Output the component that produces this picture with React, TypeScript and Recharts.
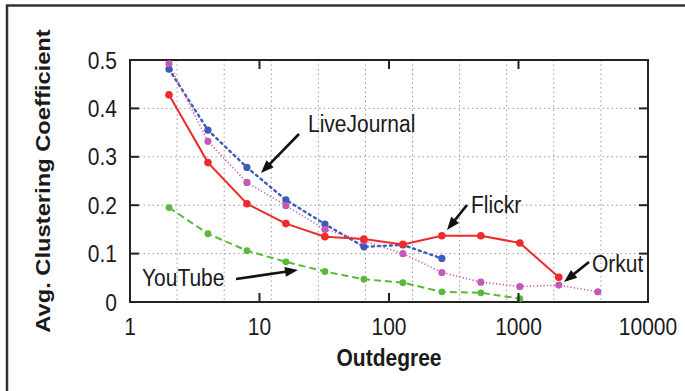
import React from 'react';
import { LineChart, Line, XAxis, YAxis, CartesianGrid, ReferenceArea } from 'recharts';

const outdegree = [2, 4, 8, 16, 32, 64, 128, 256, 512, 1024, 2048, 4096];
const flickr = [0.428, 0.288, 0.203, 0.162, 0.135, 0.13, 0.119, 0.137, 0.137, 0.122, 0.051, null];
const liveJournal = [0.481, 0.355, 0.278, 0.211, 0.161, 0.114, 0.118, 0.09, null, null, null, null];
const orkut = [0.492, 0.332, 0.247, 0.199, 0.15, 0.126, 0.1, 0.061, 0.041, 0.032, 0.035, 0.021];
const youTube = [0.195, 0.141, 0.106, 0.083, 0.063, 0.047, 0.04, 0.021, 0.019, 0.007, null, null];

const xMajorTicks = [1, 10, 100, 1000, 10000];
const xMinorTicks = [1, 10, 100, 1000].flatMap((d) => [2, 3, 4, 5, 6, 7, 8, 9].map((m) => m * d));
const yTicks = [0, 0.1, 0.2, 0.3, 0.4, 0.5];

const data = outdegree.map((x, i) => ({
  x,
  flickr: flickr[i],
  liveJournal: liveJournal[i],
  orkut: orkut[i],
  youTube: youTube[i],
}));

const FONT = '"Liberation Sans", Arial, Helvetica, sans-serif';
const W = 685;
const H = 391;
const PLOT_LEFT = 130;
const PLOT_RIGHT = 648;
const PLOT_TOP = 60;
const PLOT_BOTTOM = 302;
const AXIS = '#222';
const TEXT = '#1a1a1a';
const STRETCH = 1.13;

const SText = ({ x, y, anchor = 'start', size = 21, bold = false, children }: any) => (
  <text
    transform={`translate(${x} ${y}) scale(1 ${STRETCH})`}
    x={0}
    y={0}
    textAnchor={anchor}
    fontSize={size}
    fontWeight={bold ? 'bold' : 'normal'}
    fontFamily={FONT}
    fill={TEXT}
  >
    {children}
  </text>
);

const XMajorTick = (props: any) => {
  const { x, payload } = props;
  return (
    <g>
      <line x1={x} x2={x} y1={PLOT_BOTTOM} y2={PLOT_BOTTOM - 9} stroke={AXIS} strokeWidth={2} />
      <line x1={x} x2={x} y1={PLOT_TOP} y2={PLOT_TOP + 9} stroke={AXIS} strokeWidth={2} />
      <SText x={x} y={335} anchor="middle">
        {String(payload.value)}
      </SText>
    </g>
  );
};

const XMinorTick = (props: any) => {
  const { x } = props;
  return (
    <g>
      <line x1={x} x2={x} y1={PLOT_BOTTOM} y2={PLOT_BOTTOM - 5} stroke={AXIS} strokeWidth={1.8} />
      <line x1={x} x2={x} y1={PLOT_TOP} y2={PLOT_TOP + 5} stroke={AXIS} strokeWidth={1.8} />
    </g>
  );
};

const YTick = (props: any) => {
  const { y, payload } = props;
  const v = payload.value;
  const label = v === 0 ? '0' : v.toFixed(1);
  return (
    <g>
      <line x1={PLOT_LEFT} x2={PLOT_LEFT + 9} y1={y} y2={y} stroke={AXIS} strokeWidth={2} />
      <line x1={PLOT_RIGHT} x2={PLOT_RIGHT - 9} y1={y} y2={y} stroke={AXIS} strokeWidth={2} />
      <SText x={117} y={y + 8.5} anchor="end">
        {label}
      </SText>
    </g>
  );
};

function arrowPath(x1: number, y1: number, x2: number, y2: number) {
  const dx = x2 - x1;
  const dy = y2 - y1;
  const len = Math.sqrt(dx * dx + dy * dy);
  const ux = dx / len;
  const uy = dy / len;
  const px = -uy;
  const py = ux;
  const headLen = 13;
  const headW = 5;
  const bx = x2 - ux * headLen;
  const by = y2 - uy * headLen;
  return {
    shaft: { x1, y1, x2: bx + ux * 2, y2: by + uy * 2 },
    head: `${x2},${y2} ${bx + px * headW},${by + py * headW} ${bx - px * headW},${by - py * headW}`,
  };
}

const Arrow = ({ from, to }: { from: [number, number]; to: [number, number] }) => {
  const a = arrowPath(from[0], from[1], to[0], to[1]);
  return (
    <g>
      <line {...a.shaft} stroke="#111" strokeWidth={2.6} />
      <polygon points={a.head} fill="#111" />
    </g>
  );
};

const annotations = [
  { text: 'LiveJournal', x: 308, y: 132, from: [299, 134] as [number, number], to: [261, 173] as [number, number] },
  { text: 'Flickr', x: 471, y: 213, from: [467, 205] as [number, number], to: [447, 230] as [number, number] },
  { text: 'Orkut', x: 592, y: 272, from: [589, 262] as [number, number], to: [564, 282] as [number, number] },
  { text: 'YouTube', x: 142, y: 286, from: [236, 279] as [number, number], to: [298, 270] as [number, number] },
];

export default function App() {
  return (
    <div style={{ position: 'absolute', left: 0, top: 0, width: W, height: H, background: '#fff', overflow: 'hidden' }}>
      <LineChart width={W} height={H} data={data} margin={{ top: PLOT_TOP, right: W - PLOT_RIGHT, left: 0, bottom: 0 }}>
        <CartesianGrid stroke="#999" strokeDasharray="1.5 3" strokeWidth={1} />
        <XAxis
          xAxisId="main"
          dataKey="x"
          type="number"
          scale="log"
          domain={[1, 10000]}
          ticks={xMajorTicks}
          allowDataOverflow
          height={H - PLOT_BOTTOM}
          axisLine={false}
          tickLine={false}
          tick={<XMajorTick />}
          interval={0}
        />
        <XAxis
          xAxisId="minor"
          orientation="top"
          dataKey="x"
          type="number"
          scale="log"
          domain={[1, 10000]}
          ticks={xMinorTicks}
          allowDataOverflow
          height={0}
          axisLine={false}
          tickLine={false}
          tick={<XMinorTick />}
          interval={0}
        />
        <YAxis
          type="number"
          domain={[0, 0.5]}
          ticks={yTicks}
          width={PLOT_LEFT}
          axisLine={false}
          tickLine={false}
          tick={<YTick />}
          interval={0}
          label={{
            value: 'Avg. Clustering Coefficient',
            content: () => (
              <text
                transform={`translate(43 181) rotate(-90) scale(${STRETCH} 1)`}
                x={0}
                y={0}
                textAnchor="middle"
                dominantBaseline="central"
                fontSize={21}
                fontWeight="bold"
                fontFamily={FONT}
                fill={TEXT}
              >
                Avg. Clustering Coefficient
              </text>
            ),
          }}
        />
        <ReferenceArea xAxisId="main" x1={1} x2={10000} y1={0} y2={0.5} fill="none" stroke={AXIS} strokeWidth={2} ifOverflow="visible" />
        <Line xAxisId="main" dataKey="liveJournal" stroke="#3a5bb8" strokeWidth={2.4} strokeDasharray="2 4" strokeLinecap="round" dot={{ r: 3.6, fill: '#3a5bb8', stroke: 'none' }} isAnimationActive={false} connectNulls={false} />
        <Line xAxisId="main" dataKey="orkut" stroke="#c45ab8" strokeWidth={1.6} strokeDasharray="1.2 2.2" dot={{ r: 3.6, fill: '#c45ab8', stroke: 'none' }} isAnimationActive={false} connectNulls={false} />
        <Line xAxisId="main" dataKey="youTube" stroke="#5cb83a" strokeWidth={2} strokeDasharray="7 4" dot={{ r: 3.4, fill: '#5cb83a', stroke: 'none' }} isAnimationActive={false} connectNulls={false} />
        <Line xAxisId="main" dataKey="flickr" stroke="#ee2a2a" strokeWidth={2} dot={{ r: 3.8, fill: '#ee2a2a', stroke: 'none' }} isAnimationActive={false} connectNulls={false} />
      </LineChart>
      <svg width={W} height={H} style={{ position: 'absolute', left: 0, top: 0, pointerEvents: 'none' }}>
        <line x1={6} x2={W} y1={5.5} y2={5.5} stroke="#333" strokeWidth={2.5} />
        <line x1={7} x2={7} y1={5} y2={H} stroke="#333" strokeWidth={2.5} />
        <SText x={389} y={366} anchor="middle" bold>
          Outdegree
        </SText>
        {annotations.map((a) => (
          <g key={a.text}>
            <SText x={a.x} y={a.y}>
              {a.text}
            </SText>
            <Arrow from={a.from} to={a.to} />
          </g>
        ))}
      </svg>
    </div>
  );
}
